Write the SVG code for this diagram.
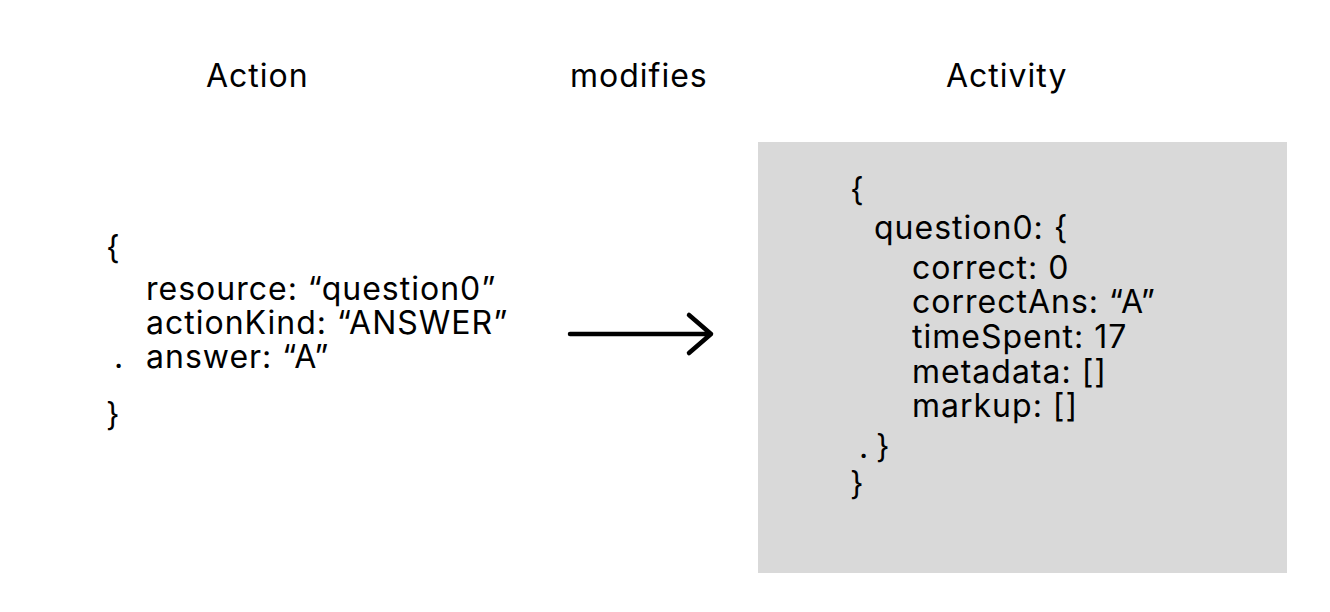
<svg xmlns="http://www.w3.org/2000/svg" width="1330" height="612" viewBox="0 0 1330 612">
<style>
text{font-family:Inter,"Liberation Sans",sans-serif;font-size:32px;letter-spacing:1px;fill:#000}
.conn{stroke:#000;stroke-width:4.5;fill:none;stroke-linecap:round;stroke-linejoin:round}
</style>
<rect width="1330" height="612" fill="#fff"/>
<g id="title-action"><text x="206" y="87">Action</text></g>
<g id="title-activity"><text x="946" y="87">Activity</text></g>
<g id="action">
<text><tspan x="106" y="259">{</tspan><tspan x="146" y="300">resource: “question0”</tspan><tspan x="146" y="334">actionKind: “ANSWER”</tspan><tspan x="114" y="368">.</tspan><tspan x="146" y="368">answer: “A”</tspan><tspan x="106" y="426">}</tspan></text>
</g>
<g id="activity">
<rect x="758" y="142" width="529" height="431" fill="#d9d9d9"/>
<text><tspan x="850" y="201">{</tspan><tspan x="874" y="239">question0: {</tspan><tspan x="912" y="279">correct: 0</tspan><tspan x="912" y="313">correctAns: “A”</tspan><tspan x="912" y="348">timeSpent: 17</tspan><tspan x="912" y="383">metadata: []</tspan><tspan x="912" y="417">markup: []</tspan><tspan x="859" y="458">.</tspan><tspan x="876" y="458">}</tspan><tspan x="850" y="495">}</tspan></text>
</g>
<g id="connectors">
<text x="570" y="87">modifies</text>
<path class="conn" d="M570 334H711M689 315L711 334L689 353"/>
</g>
</svg>
